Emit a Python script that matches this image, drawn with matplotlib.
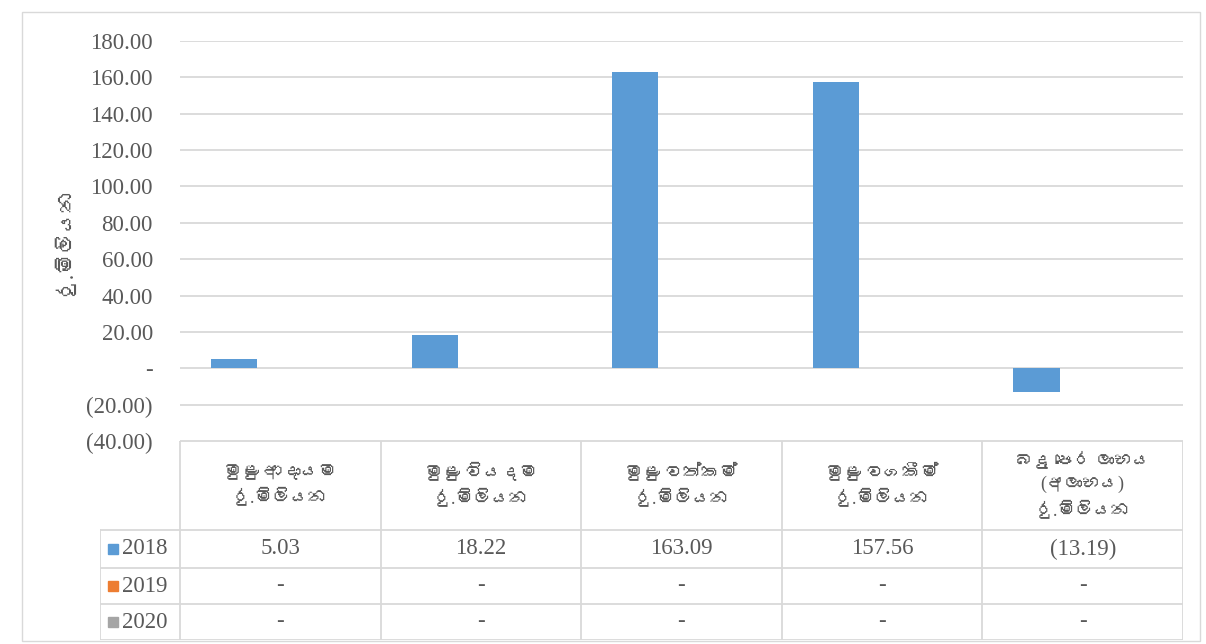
import numpy as np
import matplotlib
matplotlib.use("Agg")
import matplotlib.pyplot as plt
from matplotlib import font_manager
from matplotlib.ft2font import FT2Font
from matplotlib.patches import Rectangle

# data
categories = ["මුළු ආදායම\nරු.මිලියන", "මුළු වියදම\nරු.මිලියන", "මුළු වත්කම්\nරු.මිලියන",
              "මුළු වගකීම්\nරු.මිලියන", "බදු පෙර ලාභය\n(අලාභය)\nරු.මිලියන"]
years = ["2018", "2019", "2020"]
values_2018 = [5.03, 18.22, 163.09, 157.56, -13.19]
values_2019 = [0, 0, 0, 0, 0]
values_2020 = [0, 0, 0, 0, 0]
table_2018 = ["5.03", "18.22", "163.09", "157.56", "(13.19)"]
table_2019 = ["-", "-", "-", "-", "-"]
table_2020 = ["-", "-", "-", "-", "-"]
yticks = [-40, -20, 0, 20, 40, 60, 80, 100, 120, 140, 160, 180]
ylabel = "රු.මිලියන"

colors = ["#5b9bd5", "#ed7d31", "#a5a5a5"]
grey = "#595959"
line_c = "#d9d9d9"

# look for a font with sinhala glyphs
sinhala_font = None
for f in font_manager.fontManager.ttflist:
    try:
        cm = FT2Font(f.fname).get_charmap()
        if 0x0DB8 in cm and 0x0DD4 in cm:
            sinhala_font = f.name
            break
    except Exception:
        pass
fams = ["Liberation Serif"]
if sinhala_font:
    fams.append(sinhala_font)
fams.append("DejaVu Sans")
plt.rcParams["font.family"] = fams

W, H = 1206, 644
fig = plt.figure(figsize=(W / 100, H / 100), dpi=100)

def fx(px):
    return px / W

def fy(py):
    return 1 - py / H

# outer border
fig.patches.append(Rectangle((fx(22), fy(641)), fx(1200) - fx(22), fy(12) - fy(641),
                             transform=fig.transFigure, fill=False, ec=line_c, lw=1))

# main chart
x0, x1, ytop, ybot = 180, 1183, 41, 441
ax = fig.add_axes([fx(x0), fy(ybot), fx(x1) - fx(x0), fy(ytop) - fy(ybot)])
x = np.arange(len(categories))
bw = 0.23
for i, vals in enumerate([values_2018, values_2019, values_2020]):
    ax.bar(x + (i - 1) * bw, vals, bw, color=colors[i], zorder=3)
ax.set_xlim(-0.5, len(categories) - 0.5)
ax.set_ylim(-40, 180)
ax.set_yticks(yticks)
ax.set_yticklabels(["(%.2f)" % -t if t < 0 else ("-" if t == 0 else "%.2f" % t) for t in yticks],
                   fontsize=16.5, color=grey)
ax.tick_params(axis="y", length=0, pad=19.5)
ax.set_xticks([])
ax.grid(axis="y", color=line_c, lw=1.3, zorder=0)
for s in ax.spines.values():
    s.set_visible(False)
ax.set_ylabel(ylabel, fontsize=15, color=grey, labelpad=8)

# data table under the chart
tl = 100
tax = fig.add_axes([fx(tl), fy(640), fx(x1) - fx(tl), fy(441) - fy(640)])
unit = (x1 - x0) / len(categories)
left = -0.5 - (x0 - tl) / unit
tax.set_xlim(left, len(categories) - 0.5)
rows = [441, 530, 568, 604, 640]
tax.set_ylim(rows[-1], rows[0])
tax.axis("off")
tax.plot([-0.5, len(categories) - 0.5], [rows[0], rows[0]], color=line_c, lw=1.3)
for r in rows[1:]:
    tax.plot([left, len(categories) - 0.5], [r, r], color=line_c, lw=1.3)
for k in range(len(categories) + 1):
    tax.plot([k - 0.5, k - 0.5], [rows[0], rows[-1]], color=line_c, lw=1.3)
tax.plot([left, left], [rows[1], rows[-1]], color=line_c, lw=1.3)

for k, c in enumerate(categories):
    tax.text(k, (rows[0] + rows[1]) / 2, c, ha="center", va="center",
             fontsize=13, color=grey, linespacing=1.5)
for j, (yr, cells) in enumerate(zip(years, [table_2018, table_2019, table_2020])):
    yc = (rows[j + 1] + rows[j + 2]) / 2
    kx = left + 8 / unit
    tax.add_patch(Rectangle((kx, yc - 5), 10 / unit, 10, color=colors[j]))
    tax.text(left + 22 / unit, yc, yr, ha="left", va="center", fontsize=16.5, color=grey)
    for k, v in enumerate(cells):
        tax.text(k, yc, v, ha="center", va="center", fontsize=16.5, color=grey)

fig.savefig("out.png", dpi=100)
